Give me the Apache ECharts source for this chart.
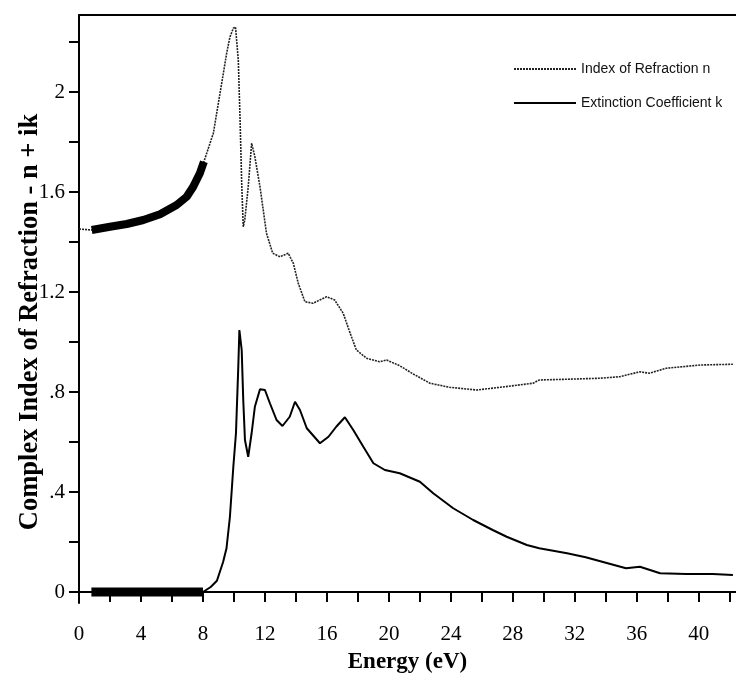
<!DOCTYPE html>
<html>
<head>
	<meta http-equiv="Content-Type" content="text/html; charset=utf-8" />
	<title>Complex Index of Refraction</title>
	<script src="https://cdn.jsdelivr.net/npm/echarts@6/dist/echarts.min.js"></script>
	<style>
		html,body{margin:0;padding:0;background:#fff;}
		#main{width:736px;height:674px;}
	</style>
</head>
<body>
	<div id="main"></div>
	<script type="text/javascript">
		// index of refraction n (thin trace)
		var nEnergy = [0, 0.82, 2.0, 3.08, 4.15, 5.23, 6.3, 6.95, 7.37, 7.8, 8.06, 8.67, 9.1, 9.53, 9.74, 9.96, 10.1, 10.28, 10.39, 10.5, 10.6, 10.7, 10.92, 11.14, 11.35, 11.68, 12.1, 12.5, 12.97, 13.5, 13.83, 14.15, 14.58, 15.1, 15.98, 16.5, 17.05, 17.5, 17.9, 18.56, 19.4, 19.85, 20.7, 21.57, 22.65, 23.9, 25.66, 27.2, 29.3, 29.7, 31.5, 33.6, 34.9, 36.2, 36.8, 37.9, 40.1, 42.2];
		var nValue = [1.452, 1.448, 1.461, 1.472, 1.488, 1.511, 1.548, 1.581, 1.621, 1.675, 1.721, 1.835, 1.995, 2.155, 2.22, 2.255, 2.26, 2.128, 1.9, 1.635, 1.461, 1.488, 1.621, 1.795, 1.741, 1.621, 1.435, 1.355, 1.341, 1.355, 1.315, 1.235, 1.161, 1.155, 1.181, 1.168, 1.115, 1.035, 0.968, 0.935, 0.921, 0.928, 0.905, 0.872, 0.835, 0.819, 0.808, 0.819, 0.835, 0.848, 0.851, 0.855, 0.861, 0.881, 0.875, 0.895, 0.908, 0.911];
		// n, dense low-energy points (drawn as a heavy band)
		var nBandEnergy = [0.82, 2.0, 3.08, 4.15, 5.23, 6.3, 6.95, 7.37, 7.8, 8.06];
		var nBandValue = [1.448, 1.461, 1.472, 1.488, 1.511, 1.548, 1.581, 1.621, 1.675, 1.721];

		// extinction coefficient k
		var kEnergy = [0, 0.8, 8.0, 8.5, 8.9, 9.3, 9.52, 9.74, 9.96, 10.13, 10.28, 10.35, 10.5, 10.6, 10.71, 10.92, 11.14, 11.35, 11.68, 12.0, 12.32, 12.75, 13.13, 13.6, 13.94, 14.26, 14.7, 15.55, 16.1, 16.6, 17.16, 17.7, 18.35, 19.0, 19.74, 20.7, 22.0, 22.86, 24.15, 25.44, 26.7, 27.6, 28.9, 29.7, 31.5, 32.7, 34.0, 35.3, 36.2, 37.5, 39.2, 40.9, 42.2];
		var kValue = [0, 0, 0, 0.02, 0.045, 0.12, 0.175, 0.301, 0.501, 0.635, 0.901, 1.048, 0.968, 0.768, 0.608, 0.541, 0.635, 0.741, 0.811, 0.808, 0.755, 0.688, 0.664, 0.701, 0.761, 0.728, 0.655, 0.595, 0.621, 0.661, 0.699, 0.648, 0.581, 0.515, 0.488, 0.475, 0.441, 0.395, 0.335, 0.288, 0.248, 0.221, 0.188, 0.175, 0.155, 0.139, 0.117, 0.095, 0.101, 0.075, 0.072, 0.072, 0.068];
		var kBandEnergy = [0.8, 8.0];
		var kBandValue = [0, 0];

		// x: tick every 2 eV, label every 4 eV
		var xTickStep = 2;
		var xLabelStep = 4;
		var yTicks = [0, 0.2, 0.4, 0.6, 0.8, 1.0, 1.2, 1.4, 1.6, 1.8, 2.0, 2.2];
		var yLabels = [0, 0.4, 0.8, 1.2, 1.6, 2.0];

		function pairs(xs, ys) {
			return xs.map(function (x, i) { return [x, ys[i]]; });
		}

		var serif = 'Liberation Serif';
		var myChart = echarts.init(document.getElementById('main'));
		myChart.setOption({
			animation: false,
			backgroundColor: '#fff',
			grid: { left: 79, top: 15, right: 0, bottom: 71, outerBoundsMode: 'none', containLabel: false },
			legend: {
				orient: 'vertical',
				left: 508,
				top: 57,
				itemWidth: 62,
				itemHeight: 14,
				itemGap: 20,
				itemStyle: { opacity: 0 },
				data: ['Index of Refraction n', 'Extinction Coefficient k'],
				textStyle: { fontFamily: 'Liberation Sans', fontSize: 14, color: '#111' }
			},
			xAxis: [{
				type: 'value',
				min: 0,
				max: 42.4,
				interval: xTickStep,
				name: 'Energy (eV)',
				nameLocation: 'middle',
				nameGap: 48,
				nameMoveOverlap: false,
				nameTextStyle: { fontFamily: serif, fontWeight: 'bold', fontSize: 23, color: '#000' },
				splitLine: { show: false },
				axisLine: { lineStyle: { color: '#000', width: 2 } },
				axisTick: { show: true, length: 10, lineStyle: { color: '#000', width: 2 } },
				axisLabel: {
					margin: 21, fontFamily: serif, fontSize: 21, color: '#000',
					showMaxLabel: false,
					formatter: function (v) { return v % xLabelStep === 0 ? String(v) : ''; }
				}
			}, {
				type: 'value',
				position: 'top',
				min: 0,
				max: 42.4,
				splitLine: { show: false },
				axisLine: { show: true, lineStyle: { color: '#000', width: 2 } },
				axisTick: { show: false },
				axisLabel: { show: false }
			}],
			yAxis: {
				type: 'value',
				min: -0.044,
				max: 2.308,
				name: 'Complex Index of Refraction - n + ik',
				nameLocation: 'middle',
				nameGap: 35,
				nameMoveOverlap: false,
				nameTextStyle: { fontFamily: serif, fontWeight: 'bold', fontSize: 26.5, color: '#000', padding: [0, 26, 0, 0] },
				splitLine: { show: false },
				axisLine: { show: true, lineStyle: { color: '#000', width: 2 } },
				axisTick: { show: true, customValues: yTicks, length: 10, lineStyle: { color: '#000', width: 2 } },
				axisLabel: {
					customValues: yLabels,
					margin: 14,
					fontFamily: serif,
					fontSize: 21,
					color: '#000',
					formatter: function (v) {
						var s = String(Math.round(v * 10) / 10);
						return s.indexOf('0.') === 0 ? s.slice(1) : s;
					}
				}
			},
			series: [{
				name: 'Index of Refraction n',
				type: 'line',
				symbol: 'none',
				data: pairs(nEnergy, nValue),
				lineStyle: { color: '#222', width: 1.6, type: [2, 1] },
				itemStyle: { color: '#222' }
			}, {
				name: 'Extinction Coefficient k',
				type: 'line',
				symbol: 'none',
				data: pairs(kEnergy, kValue),
				lineStyle: { color: '#000', width: 2 },
				itemStyle: { color: '#000' }
			}, {
				name: 'n dense',
				type: 'line',
				symbol: 'none',
				data: pairs(nBandEnergy, nBandValue),
				lineStyle: { color: '#000', width: 8 }
			}, {
				name: 'k dense',
				type: 'line',
				symbol: 'none',
				data: pairs(kBandEnergy, kBandValue),
				lineStyle: { color: '#000', width: 9 }
			}]
		});
	</script>
</body>
</html>
